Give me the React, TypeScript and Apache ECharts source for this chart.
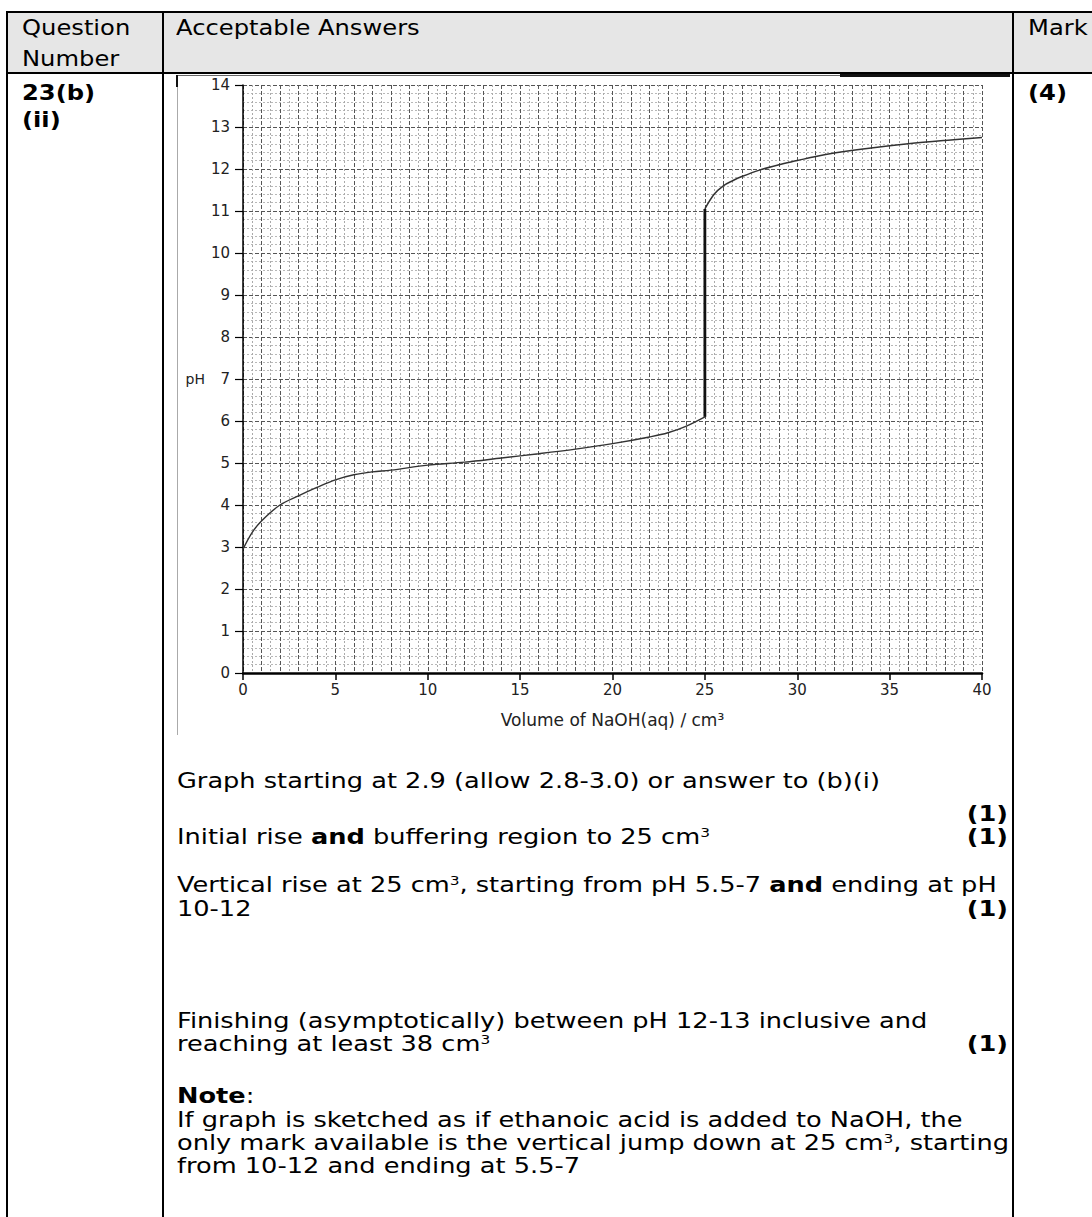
import React, { useEffect, useRef } from "react";
import * as echarts from "echarts";

// ---- data ----
const xTickValues = [0, 5, 10, 15, 20, 25, 30, 35, 40];
const yTickValues = [0, 1, 2, 3, 4, 5, 6, 7, 8, 9, 10, 11, 12, 13, 14];
const volumeBefore = [0, 0.5, 1, 2, 3, 4, 5, 6, 7, 8, 10, 12, 14, 16, 18, 20, 22, 23, 24, 25];
const phBefore = [2.95, 3.35, 3.62, 4.0, 4.22, 4.42, 4.6, 4.72, 4.79, 4.83, 4.95, 5.02, 5.12, 5.22, 5.33, 5.46, 5.62, 5.72, 5.88, 6.1];
const volumeJump = [25, 25];
const phJump = [6.1, 11.05];
const volumeAfter = [25, 25.5, 26, 26.5, 27, 28, 29, 30, 31, 32, 34, 36, 38, 40];
const phAfter = [11.05, 11.4, 11.6, 11.72, 11.82, 11.98, 12.1, 12.2, 12.3, 12.38, 12.5, 12.6, 12.68, 12.75];
const xAxisTitle = "Volume of NaOH(aq) / cm\u00B3";
const yAxisTitle = "pH";

const zip = (xs: number[], ys: number[]) => xs.map((x, i) => [x, ys[i]]);

const FONT = "'DejaVu Sans', Verdana, sans-serif";

function Chart() {
  const ref = useRef<HTMLDivElement>(null);
  useEffect(() => {
    if (!ref.current) return;
    const chart = echarts.init(ref.current, undefined, { renderer: "svg" });
    const labelStyle = { fontFamily: FONT, fontSize: 15, color: "#222" };
    chart.setOption({
      animation: false,
      grid: { left: 243, top: 85, width: 739, height: 588, containLabel: false },
      xAxis: [
        {
          type: "value",
          min: 0,
          max: 40,
          interval: 5,
          position: "bottom",
          axisLine: { show: true, onZero: false, lineStyle: { color: "#000", width: 2.5 } },
          axisTick: { show: true, length: 7, lineStyle: { color: "#000", width: 1.5 } },
          axisLabel: { ...labelStyle, margin: 9, formatter: (v: number) => (xTickValues.includes(v) ? String(v) : "") },
          splitLine: { show: false },
          name: xAxisTitle,
          nameLocation: "middle",
          nameGap: 38,
          nameTextStyle: { fontFamily: FONT, fontSize: 17, color: "#222" },
        },
        {
          type: "value",
          min: 0,
          max: 40,
          interval: 1,
          position: "top",
          axisLine: { show: false },
          axisTick: { show: false },
          axisLabel: { show: false },
          splitLine: { show: true, lineStyle: { color: "#555", width: 1, type: [4, 2] } },
          minorTick: { show: false, splitNumber: 2 },
          minorSplitLine: { show: true, lineStyle: { color: "#aaa", width: 1, type: [2, 2] } },
        },
      ],
      yAxis: [
        {
          type: "value",
          min: 0,
          max: 14,
          interval: 1,
          position: "left",
          axisLine: { show: true, onZero: false, lineStyle: { color: "#000", width: 1.5 } },
          axisTick: { show: true, length: 8, lineStyle: { color: "#000", width: 1.2 } },
          axisLabel: { ...labelStyle, margin: 13, formatter: (v: number) => (yTickValues.includes(v) ? String(v) : "") },
          splitLine: { show: false },
          name: yAxisTitle,
          nameLocation: "middle",
          nameRotate: 0,
          nameGap: 34,
          nameTextStyle: { fontFamily: FONT, fontSize: 14, color: "#222", padding: [20, 0, 0, 0] },
        },
        {
          type: "value",
          min: 0,
          max: 14,
          interval: 1,
          position: "right",
          axisLine: { show: false },
          axisTick: { show: false },
          axisLabel: { show: false },
          splitLine: { show: true, lineStyle: { color: "#555", width: 1, type: [4, 2] } },
          minorTick: { show: false, splitNumber: 5 },
          minorSplitLine: { show: true, lineStyle: { color: "#b8b8b8", width: 1, type: [2, 2] } },
        },
      ],
      series: [
        {
          type: "line",
          xAxisIndex: 0,
          yAxisIndex: 0,
          data: zip(volumeBefore, phBefore),
          smooth: 0.35,
          showSymbol: false,
          lineStyle: { color: "#333", width: 1.4 },
        },
        {
          type: "line",
          xAxisIndex: 0,
          yAxisIndex: 0,
          data: zip(volumeJump, phJump),
          showSymbol: false,
          lineStyle: { color: "#111", width: 2.8 },
        },
        {
          type: "line",
          xAxisIndex: 0,
          yAxisIndex: 0,
          data: zip(volumeAfter, phAfter),
          smooth: 0.35,
          showSymbol: false,
          lineStyle: { color: "#333", width: 1.5 },
        },
      ],
    });
    return () => chart.dispose();
  }, []);
  return (
    <div
      ref={ref}
      style={{ position: "absolute", left: 0, top: 0, width: 1092, height: 760 }}
    />
  );
}

const SX = 1.25;
const LH = 18;

// a single text line, positioned by the vertical centre of its line box
function Line(props: { x?: number; right?: number; cy: number; children: React.ReactNode; size?: number; sx?: number }) {
  const { x, right, cy, children, size = 20.5, sx = SX } = props;
  const style: React.CSSProperties = {
    position: "absolute",
    top: cy - LH / 2,
    whiteSpace: "nowrap",
    fontSize: size,
    lineHeight: `${LH}px`,
    transform: `scaleX(${sx})`,
    transformOrigin: right !== undefined ? "right top" : "left top",
  };
  if (right !== undefined) style.right = right;
  else style.left = x;
  return <div style={style}>{children}</div>;
}

const Sup = (p: { children: React.ReactNode }) => (
  <sup style={{ fontSize: "0.6em", verticalAlign: "0.6em", lineHeight: 0 }}>{p.children}</sup>
);

function Rule(p: { x: number; y: number; w: number; h: number; c?: string }) {
  return (
    <div
      style={{ position: "absolute", left: p.x, top: p.y, width: p.w, height: p.h, background: p.c || "#000" }}
    />
  );
}

export default function App() {
  const TX = 177;
  const R = 1092 - 1008;
  return (
    <div
      style={{
        position: "absolute",
        left: 0,
        top: 0,
        width: 1092,
        height: 1217,
        overflow: "hidden",
        background: "#fff",
        fontFamily: FONT,
        color: "#000",
      }}
    >
      {/* header background */}
      <Rule x={7} y={12} w={1085} h={61} c="#e6e6e6" />
      {/* table rules */}
      <Rule x={6} y={11} w={1086} h={2} />
      <Rule x={6} y={72} w={1086} h={2} />
      <Rule x={6} y={11} w={2} h={1206} />
      <Rule x={162} y={11} w={2} h={1206} />
      <Rule x={1012} y={11} w={2} h={1206} />

      {/* scanned frame edges */}
      <Rule x={176} y={75} w={834} h={1} c="#666" />
      <Rule x={840} y={74} w={170} h={3} c="#111" />
      <Rule x={176} y={75} w={2} h={12} c="#111" />
      <Rule x={177} y={87} w={1} h={648} c="#aaa" />

      {/* header texts */}
      <Line x={22} cy={28} size={22} sx={1.1}>Question</Line>
      <Line x={22} cy={59} size={22} sx={1.1}>Number</Line>
      <Line x={176} cy={28} size={22} sx={1.1}>Acceptable Answers</Line>
      <Line x={1028} cy={28} size={22} sx={1.1}>Mark</Line>

      {/* first and last column */}
      <Line x={22} cy={93} size={22} sx={1.1}><b>23(b)</b></Line>
      <Line x={22} cy={120} size={22} sx={1.1}><b>(ii)</b></Line>
      <Line x={1028} cy={93} size={22} sx={1.1}><b>(4)</b></Line>

      <Chart />

      {/* marking points */}
      <Line x={TX} cy={781}>Graph starting at 2.9 (allow 2.8-3.0) or answer to (b)(i)</Line>
      <Line right={R} cy={814}><b>(1)</b></Line>
      <Line x={TX} cy={837}>Initial rise <b>and</b> buffering region to 25 cm<Sup>3</Sup></Line>
      <Line right={R} cy={837}><b>(1)</b></Line>

      <Line x={TX} cy={885}>Vertical rise at 25 cm<Sup>3</Sup>, starting from pH 5.5-7 <b>and</b> ending at pH</Line>
      <Line x={TX} cy={909}>10-12</Line>
      <Line right={R} cy={909}><b>(1)</b></Line>

      <Line x={TX} cy={1021}>Finishing (asymptotically) between pH 12-13 inclusive and</Line>
      <Line x={TX} cy={1044}>reaching at least 38 cm<Sup>3</Sup></Line>
      <Line right={R} cy={1044}><b>(1)</b></Line>

      <Line x={TX} cy={1096}><b>Note</b>:</Line>
      <Line x={TX} cy={1120}>If graph is sketched as if ethanoic acid is added to NaOH, the</Line>
      <Line x={TX} cy={1143}>only mark available is the vertical jump down at 25 cm<Sup>3</Sup>, starting</Line>
      <Line x={TX} cy={1166}>from 10-12 and ending at 5.5-7</Line>
    </div>
  );
}
